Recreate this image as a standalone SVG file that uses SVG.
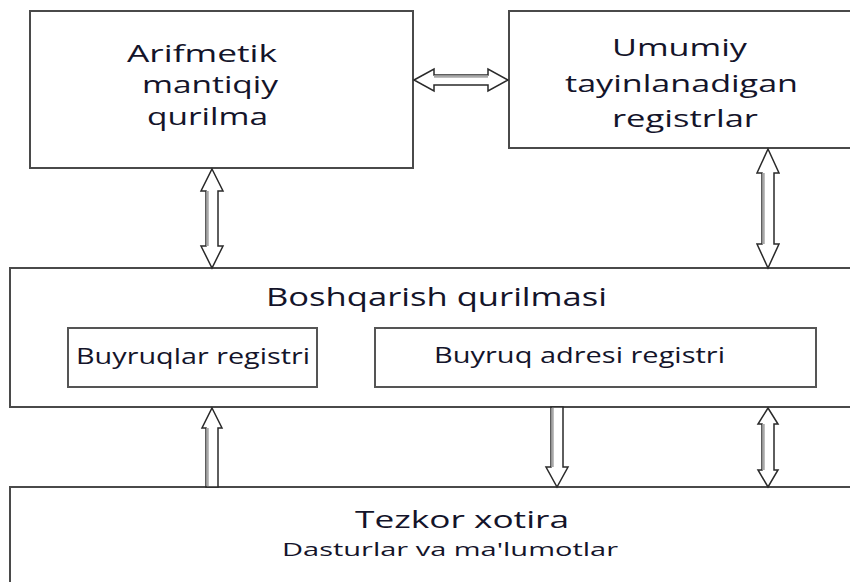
<svg xmlns="http://www.w3.org/2000/svg" width="850" height="582" viewBox="0 0 850 582">
<style>
.box{fill:#fff;stroke:#4a4a4a;stroke-width:2}
.ibox{fill:#fff;stroke:#555;stroke-width:2}
.arr{fill:#fff;stroke:#2a2a2a;stroke-width:1.5;stroke-linejoin:miter}
.sh{stroke:#a8a8a8;stroke-width:2.5}
text{font-family:"Open Sans","Liberation Sans",sans-serif;fill:#14142a}
.big{font-size:24px}
.mid{font-size:26px}
.mem{font-size:24px}
.sm{font-size:21px}
.sub{font-size:19px}
</style>
<rect width="850" height="582" fill="#fff"/>
<g id="alu">
<rect class="box" x="30" y="11" width="383" height="157"/>
<text class="big" x="127" y="62" textLength="150" lengthAdjust="spacingAndGlyphs">Arifmetik</text>
<text class="big" x="142" y="93" textLength="136" lengthAdjust="spacingAndGlyphs">mantiqiy</text>
<text class="big" x="147" y="125" textLength="121" lengthAdjust="spacingAndGlyphs">qurilma</text>
</g>
<g id="registers">
<rect class="box" x="509" y="11" width="350" height="137"/>
<text class="big" x="612" y="56" textLength="135" lengthAdjust="spacingAndGlyphs">Umumiy</text>
<text class="big" x="565" y="92" textLength="233" lengthAdjust="spacingAndGlyphs">tayinlanadigan</text>
<text class="big" x="612" y="127" textLength="146" lengthAdjust="spacingAndGlyphs">registrlar</text>
</g>
<g id="control">
<rect class="box" x="10" y="268" width="850" height="139"/>
<text class="mid" x="266" y="306" textLength="341" lengthAdjust="spacingAndGlyphs">Boshqarish qurilmasi</text>
</g>
<g id="instr-reg">
<rect class="ibox" x="68" y="328" width="249" height="59"/>
<text class="sm" x="76" y="364" textLength="234" lengthAdjust="spacingAndGlyphs">Buyruqlar registri</text>
</g>
<g id="addr-reg">
<rect class="ibox" x="375" y="328" width="441" height="59"/>
<text class="sm" x="434" y="363" textLength="291" lengthAdjust="spacingAndGlyphs">Buyruq adresi registri</text>
</g>
<g id="memory">
<rect class="box" x="10" y="487" width="850" height="110"/>
<text class="mem" x="355" y="528" textLength="214" lengthAdjust="spacingAndGlyphs">Tezkor xotira</text>
<text class="sub" x="282" y="556" textLength="336" lengthAdjust="spacingAndGlyphs">Dasturlar va ma'lumotlar</text>
</g>
<g id="connectors">
<polygon class="arr" points="414,80 434,69 434,75 488,75 488,69 508,80 488,91 488,85 434,85 434,91"/>
<line class="sh" x1="434" y1="76.5" x2="488" y2="76.5"/>
<polygon class="arr" points="212,169 223,191 218,191 218,246 223,246 212,268 201,246 206,246 206,191 201,191"/>
<line class="sh" x1="207.5" y1="191" x2="207.5" y2="246"/>
<polygon class="arr" points="768,149 779,173 774,173 774,244 779,244 768,268 757,244 762,244 762,173 757,173"/>
<line class="sh" x1="763.5" y1="173" x2="763.5" y2="244"/>
<polygon class="arr" points="212,408 222,428 218,428 218,487 206,487 206,428 202,428"/>
<line class="sh" x1="207.5" y1="428" x2="207.5" y2="486"/>
<polygon class="arr" points="551,407 563,407 563,467 568,467 557,487 546,467 551,467"/>
<line class="sh" x1="552.5" y1="408" x2="552.5" y2="467"/>
<polygon class="arr" points="768,408 778,424 774,424 774,470 778,470 768,487 758,470 762,470 762,424 758,424"/>
<line class="sh" x1="763.5" y1="424" x2="763.5" y2="470"/>
</g>
</svg>
